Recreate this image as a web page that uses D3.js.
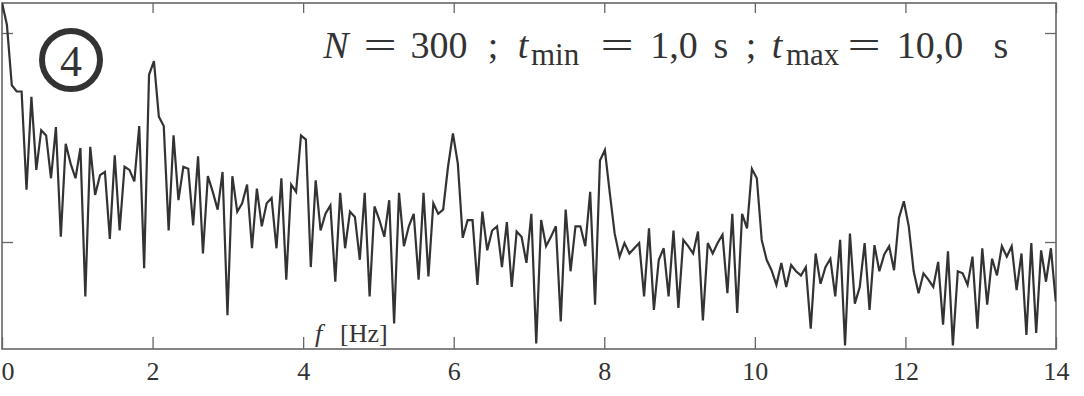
<!DOCTYPE html>
<html>
<head>
<meta charset="utf-8">
<script src="https://cdn.jsdelivr.net/npm/d3@7"></script>
<style>
  body { margin: 0; background: #fff; }
  svg { display: block; }
  text { font-family: "Liberation Serif", "DejaVu Serif", serif; fill: #333; }
</style>
</head>
<body>
<div id="chart"></div>
<script>
// spectrum level in dB, one value per frequency bin (bin 0 = 0 Hz)
var level = [
   2.9,  0.8, -5.0, -5.6, -5.6,-15.0, -6.1,-13.1, -9.3, -9.8,
 -13.9, -9.0,-19.5,-10.6,-12.5,-13.9,-11.0,-25.2,-10.9,-15.5,
 -13.6,-13.3,-19.7,-11.7,-18.9,-12.8,-13.1,-14.2, -8.9,-22.5,
  -4.0, -2.7, -8.0, -8.9,-18.9, -9.8,-16.0,-12.8,-13.0,-18.4,
 -11.8,-21.1,-13.7,-15.2,-16.9,-13.3,-27.0,-13.7,-17.1,-16.3,
 -14.5,-20.6,-14.9,-18.5,-16.3,-15.8,-20.6,-13.9,-23.6,-14.5,
 -15.2, -9.8,-10.2,-22.4,-14.1,-18.9,-17.3,-16.5,-23.8,-15.3,
 -20.6,-17.1,-17.6,-21.7,-15.3,-25.2,-16.6,-17.9,-19.5,-16.0,
 -27.8,-15.3,-20.4,-18.5,-17.3,-23.6,-15.3,-23.3,-16.3,-17.3,
 -16.9,-12.8, -9.6,-12.5,-19.6,-17.9,-17.9,-24.1,-17.1,-20.8,
 -18.9,-18.5,-22.4,-18.1,-24.3,-19.0,-19.5,-22.0,-17.3,-29.7,
 -17.9,-20.4,-19.5,-18.5,-27.6,-16.9,-22.8,-18.5,-18.5,-20.4,
 -15.2,-26.0,-12.2,-11.2,-15.3,-19.2,-21.4,-20.1,-21.1,-20.6,
 -20.1,-25.2,-18.7,-26.5,-21.7,-20.6,-25.2,-18.9,-26.3,-19.8,
 -20.4,-21.1,-19.0,-27.5,-20.1,-21.1,-20.1,-19.3,-24.9,-17.3,
 -26.8,-17.3,-18.7,-13.0,-13.9,-19.8,-21.7,-22.7,-24.1,-22.0,
 -24.3,-22.2,-22.8,-23.2,-22.4,-28.3,-21.1,-24.0,-22.4,-21.6,
 -25.2,-19.8,-29.9,-19.2,-25.9,-24.3,-20.1,-26.5,-20.3,-22.8,
 -21.2,-20.4,-22.7,-17.7,-16.1,-18.5,-22.8,-24.9,-23.0,-23.6,
 -24.3,-21.9,-27.9,-20.9,-29.9,-22.8,-23.0,-24.1,-21.4,-28.3,
 -20.6,-26.0,-21.6,-23.2,-20.4,-21.4,-20.4,-24.6,-21.1,-28.9,
 -20.1,-28.7,-20.8,-23.8,-20.6,-25.7
];
// bin width: 300 samples over 9 s, FFT on 512 points
var binWidth = 100 / 3 / 512;
var xTicks = [0, 2, 4, 6, 8, 10, 12, 14];
var yTicks = [0, -20];

var svgWidth = 1084, svgHeight = 396;
var margin = {top: 3, right: 28, bottom: 47, left: 2};
var width = svgWidth - margin.left - margin.right;
var height = svgHeight - margin.top - margin.bottom;

var svg = d3.select("#chart").append("svg")
    .attr("width", svgWidth).attr("height", svgHeight);

var g = svg.append("g")
    .attr("transform", "translate(" + margin.left + " " + margin.top + ")");

var x = d3.scaleLinear().domain([0, 14]).range([0, width]);
var y = d3.scaleLinear().domain([0, -20]).range([30, 239]);

// clip the trace to the frame
g.append("clipPath").attr("id", "plot-clip")
    .append("rect").attr("width", width).attr("height", height);

// axes: ticks point inward on all four sides
var xBottom = g.append("g")
    .attr("class", "x axis")
    .attr("transform", "translate(0 " + height + ")")
    .call(d3.axisBottom(x).tickValues(xTicks).tickSize(-12).tickPadding(13).tickFormat(d3.format("d")));
var xTop = g.append("g")
    .call(d3.axisTop(x).tickValues(xTicks).tickSize(-10).tickFormat(""));
var yLeft = g.append("g")
    .call(d3.axisLeft(y).tickValues(yTicks).tickSize(-11).tickFormat(""));
var yRight = g.append("g")
    .attr("transform", "translate(" + width + " 0)")
    .call(d3.axisRight(y).tickValues(yTicks).tickSize(-11).tickFormat(""));

g.selectAll(".domain").remove();
g.selectAll(".tick line").attr("stroke", "#666").attr("stroke-width", 1.3);
xBottom.selectAll("text")
    .attr("font-size", "26px")
    .style("fill", "#333");
// the "0" sits just right of the left edge, as in the original
xBottom.selectAll(".tick text")
    .filter(function(d) { return d === 0; })
    .attr("text-anchor", "start")
    .attr("x", -1);

// frame
g.append("rect")
    .attr("width", width).attr("height", height)
    .attr("fill", "none")
    .attr("stroke", "#666")
    .attr("stroke-width", 1.6);

// spectrum trace
var line = d3.line()
    .x(function(d, i) { return x(i * binWidth); })
    .y(function(d) { return y(d); });

g.append("path")
    .datum(level)
    .attr("clip-path", "url(#plot-clip)")
    .attr("fill", "none")
    .attr("stroke", "#333")
    .attr("stroke-width", 2.2)
    .attr("stroke-linejoin", "miter")
    .attr("d", line);

// axis name
svg.append("text")
    .attr("x", 315).attr("y", 342)
    .attr("font-size", "26px")
    .attr("font-style", "italic")
    .text("f");
svg.append("text")
    .attr("x", 340).attr("y", 342)
    .attr("font-size", "26px")
    .text("[Hz]");

// circled panel number
svg.append("circle")
    .attr("cx", 71).attr("cy", 60).attr("r", 29)
    .attr("fill", "none")
    .attr("stroke", "#333")
    .attr("stroke-width", 6);
svg.append("text")
    .attr("x", 71).attr("y", 76)
    .attr("text-anchor", "middle")
    .attr("font-size", "44px")
    .text("4");

// parameters line: pieces placed where they sit in the original
var pieces = [
    {t: "N", x: 336, italic: true},
    {t: "=", x: 380, eq: true},
    {t: "300", x: 439},
    {t: ";", x: 493},
    {t: "t", x: 523, italic: true},
    {t: "min", x: 531, sub: true},
    {t: "=", x: 617, eq: true},
    {t: "1,0", x: 674},
    {t: "s", x: 721},
    {t: ";", x: 751},
    {t: "t", x: 777, italic: true},
    {t: "max", x: 786, sub: true},
    {t: "=", x: 864, eq: true},
    {t: "10,0", x: 930},
    {t: "s", x: 1001}
];
svg.append("g").attr("class", "params")
    .selectAll("text")
    .data(pieces).enter()
    .append("text")
    .attr("text-anchor", function(d) { return d.sub ? "start" : "middle"; })
    .attr("font-size", function(d) { return d.sub ? "31px" : "38px"; })
    .attr("font-style", function(d) { return d.italic ? "italic" : "normal"; })
    .attr("transform", function(d) {
        var base = d.sub ? 65 : 58;
        return "translate(" + d.x + " " + base + ")" + (d.eq ? " scale(1.55 1)" : "");
    })
    .text(function(d) { return d.t; });
</script>
</body>
</html>
